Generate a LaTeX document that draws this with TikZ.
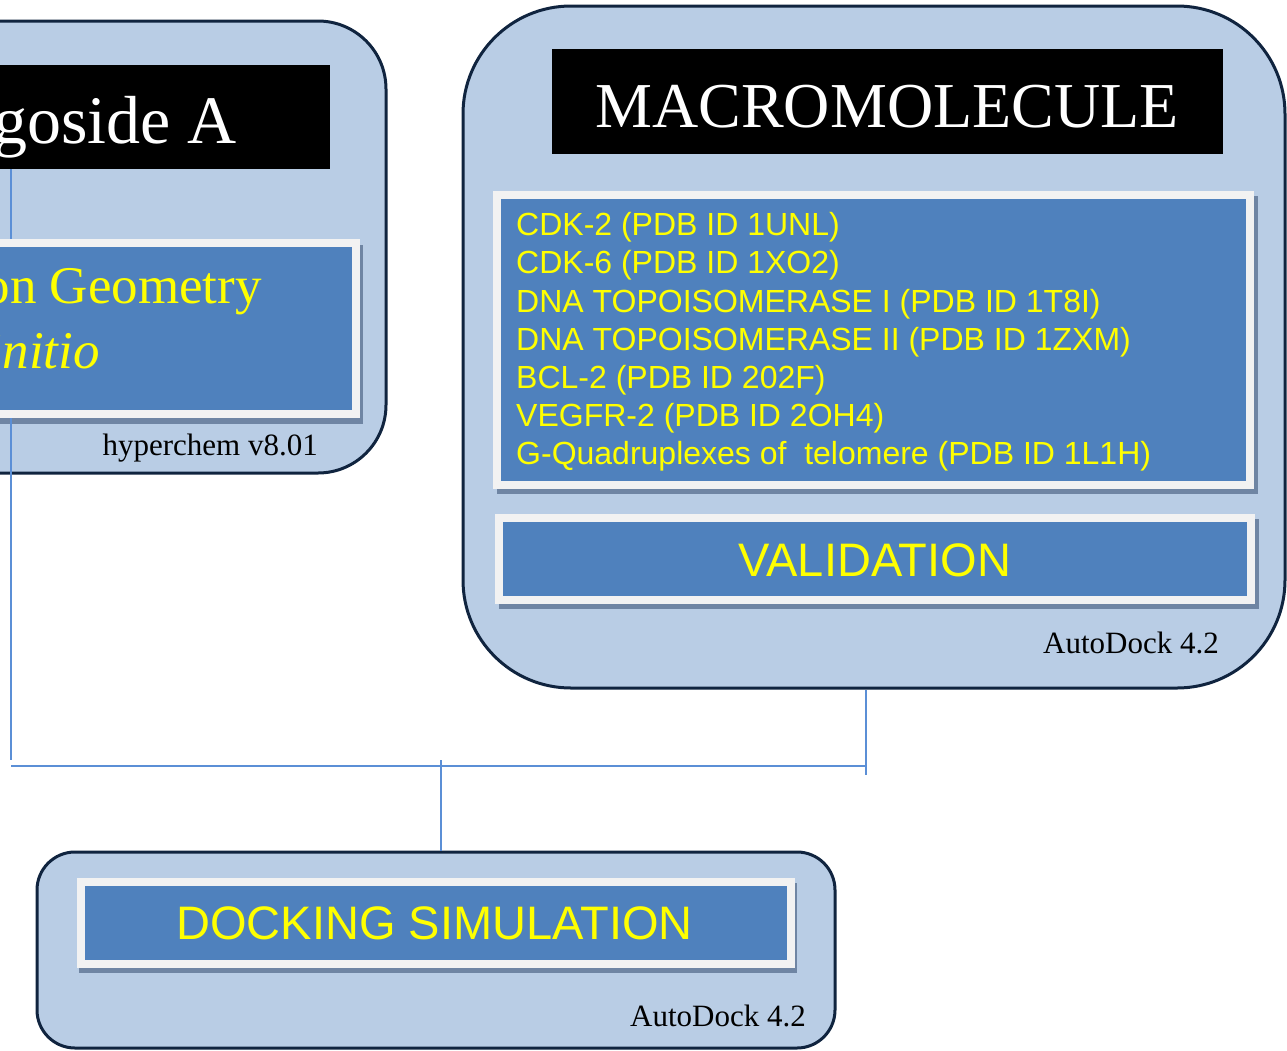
\documentclass[tikz,border=0pt]{standalone}
\usepackage{fontspec}
\setmainfont{Liberation Serif}
\setsansfont{Liberation Sans}
\usetikzlibrary{shadows}
\definecolor{outerfill}{HTML}{B9CDE5}
\definecolor{outerline}{HTML}{10243F}
\definecolor{boxblue}{HTML}{4F81BD}
\definecolor{framewhite}{HTML}{F2F2F2}
\definecolor{shadowc}{HTML}{6F85A3}
\definecolor{connc}{HTML}{5B8FD6}
\definecolor{txtyellow}{HTML}{FFFF00}
\tikzset{
  outerbox/.style={draw=outerline, line width=3pt, fill=outerfill, inner sep=0pt},
  blackbox/.style={fill=black, draw=none, inner sep=0pt},
  framebox/.style={fill=framewhite, draw=none, inner sep=0pt},
  bluebox/.style={fill=boxblue, draw=none, inner sep=0pt},
  conn/.style={draw=connc, line width=2pt},
  serifbig/.style={inner sep=0pt, font=\fontsize{64}{70}\selectfont},
  yellowserif/.style={inner sep=0pt, text=txtyellow, font=\fontsize{53}{60}\selectfont},
  listtxt/.style={inner sep=0pt, anchor=base west, text=txtyellow, font=\sffamily\fontsize{32}{36}\selectfont},
  bigsans/.style={inner sep=0pt, text=txtyellow, font=\sffamily\fontsize{47}{52}\selectfont},
  smallserif/.style={inner sep=0pt, anchor=base east, font=\fontsize{31}{34}\selectfont},
}
\begin{document}
\begin{tikzpicture}[x=1pt, y=-1pt]
\useasboundingbox (0,0) rectangle (1287,1050);
\clip (0,0) rectangle (1287,1050);
% ---------- left group ----------
\node[outerbox, rounded corners=68pt, minimum width=786pt, minimum height=452pt] (lout) at (-7,247) {};
\node[blackbox, minimum width=630pt, minimum height=104pt] (lblack) at (15,117) {};
\node[inner sep=0pt, anchor=base east, text=white, font=\fontsize{68}{74}\selectfont] (ltitle) at (237,143) {goside A};
\node[framebox, minimum width=660pt, minimum height=179pt,
      drop shadow={shadow xshift=3pt, shadow yshift=-6pt, fill=shadowc, opacity=1}] (lgeo) at (30,328.5) {};
\node[bluebox, minimum width=644pt, minimum height=163pt] (lgeoin) at (30,328.5) {};
\node[yellowserif, anchor=base east] (lgeot1) at (262,303) {on Geometry};
\node[yellowserif, anchor=base east] (lgeot2) at (100,368) {\itshape initio};
\node[smallserif] (lsoft) at (318,455) {hyperchem v8.01};
% ---------- right group ----------
\node[outerbox, rounded corners=108pt, minimum width=822pt, minimum height=682pt] (rout) at (874,347) {};
\node[blackbox, minimum width=671pt, minimum height=105pt] (rblack) at (887.5,101.5) {};
\node[serifbig, anchor=base, text=white] (rtitle) at (887,127) {MACROMOLECULE};
\node[framebox, minimum width=761pt, minimum height=298pt,
      drop shadow={shadow xshift=4pt, shadow yshift=-5pt, fill=shadowc, opacity=1}] (rlist) at (873.5,340) {};
\node[bluebox, minimum width=745pt, minimum height=282pt] (rlistin) at (873.5,340) {};
\node[listtxt] (l1) at (516,235) {CDK-2 (PDB ID 1UNL)};
\node[listtxt] (l2) at (516,273) {CDK-6 (PDB ID 1XO2)};
\node[listtxt] (l3) at (516,312) {DNA TOPOISOMERASE I (PDB ID 1T8I)};
\node[listtxt] (l4) at (516,350) {DNA TOPOISOMERASE II (PDB ID 1ZXM)};
\node[listtxt] (l5) at (516,388) {BCL-2 (PDB ID 202F)};
\node[listtxt] (l6) at (516,426) {VEGFR-2 (PDB ID 2OH4)};
\node[listtxt] (l7) at (516,464) {G-Quadruplexes of\ \ telomere (PDB ID 1L1H)};
\node[framebox, minimum width=760pt, minimum height=90pt,
      drop shadow={shadow xshift=4pt, shadow yshift=-5pt, fill=shadowc, opacity=1}] (rval) at (875,559) {};
\node[bluebox, minimum width=744pt, minimum height=74pt] (rvalin) at (875,559) {};
\node[bigsans, anchor=base] (rvalt) at (875,576) {VALIDATION};
\node[smallserif] (rsoft) at (1219,653) {AutoDock 4.2};
% ---------- bottom group ----------
\node[outerbox, rounded corners=38pt, minimum width=798pt, minimum height=196pt] (bout) at (436,950) {};
\node[framebox, minimum width=718pt, minimum height=90pt,
      drop shadow={shadow xshift=2pt, shadow yshift=-5pt, fill=shadowc, opacity=1}] (bdock) at (436,923) {};
\node[bluebox, minimum width=702pt, minimum height=74pt] (bdockin) at (436,923) {};
\node[bigsans, anchor=base] (bdockt) at (434.5,939) {DOCKING SIMULATION};
\node[smallserif] (bsoft) at (806,1026) {AutoDock 4.2};
% ---------- connectors ----------
\coordinate (cl) at (11,766);
\coordinate (clend) at (11,760);
\coordinate (cr) at (866,766);
\coordinate (crend) at (866,775);
\coordinate (cm) at (441,760);
\draw[conn] (cl |- lblack.south) -- (cl |- lgeo.north);
\draw[conn] (cl |- lgeo.south) -- (clend);
\draw[conn] (cl) -- (cr);
\draw[conn] (cr |- rout.south) -- (crend);
\draw[conn] (cm) -- (cm |- bout.north);
\end{tikzpicture}
\end{document}
